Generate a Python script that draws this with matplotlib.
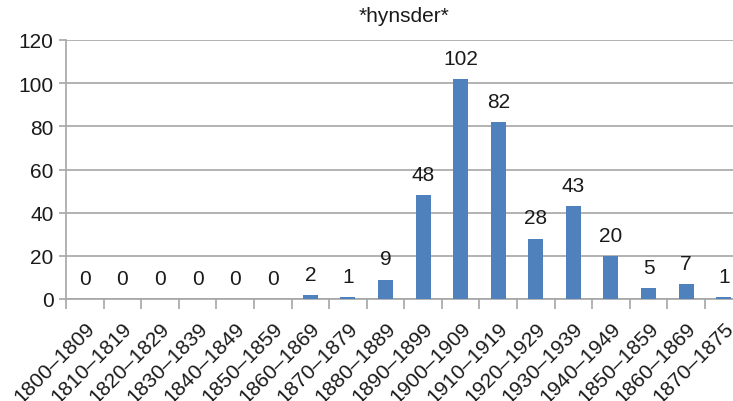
import matplotlib
matplotlib.use("Agg")
import matplotlib.pyplot as plt
import numpy as np

categories = ["1800–1809", "1810–1819", "1820–1829", "1830–1839", "1840–1849",
              "1850–1859", "1860–1869", "1870–1879", "1880–1889", "1890–1899",
              "1900–1909", "1910–1919", "1920–1929", "1930–1939", "1940–1949",
              "1850–1859", "1860–1869", "1870–1875"]
values = [0, 0, 0, 0, 0, 0, 2, 1, 9, 48, 102, 82, 28, 43, 20, 5, 7, 1]
title = "*hynsder*"
yticks = [0, 20, 40, 60, 80, 100, 120]

plt.rcParams['font.family'] = ['Liberation Sans', 'DejaVu Sans']
FS = 15
TXT = "#1a1a1a"

fig = plt.figure(figsize=(7.33, 4.02), dpi=100)
ax = fig.add_axes([66/733, 102/402, 676.5/733, 259/402])

x = np.arange(len(categories))
ax.bar(x, values, width=0.4, color="#4F81BD", zorder=3)
for xi, v in zip(x, values):
    ax.annotate(str(v), (xi, v), xytext=(0, 8), textcoords="offset points",
                ha="center", va="bottom", fontsize=FS, color=TXT)

ax.set_xlim(-0.5, len(categories) - 0.5)
ax.set_ylim(0, 120)
ax.set_yticks(yticks)
ax.set_yticklabels([str(t) for t in yticks], fontsize=FS, color=TXT)
ax.yaxis.grid(True, color="#A6A6A6", linewidth=1.2, zorder=0)
ax.tick_params(axis="y", length=5, color="#A6A6A6", width=1.2, pad=4)

ax.set_xticks(np.arange(len(categories) + 1) - 0.5, minor=False)
ax.set_xticklabels([])
ax.tick_params(axis="x", which="major", length=7, color="#A6A6A6", width=1.2)
ax.set_xticks(x, minor=True)
ax.set_xticklabels(categories, minor=True, rotation=45, ha="right",
                   rotation_mode="anchor", fontsize=FS, color=TXT)
ax.tick_params(axis="x", which="minor", length=0, pad=14)

for s in ["top", "right"]:
    ax.spines[s].set_visible(False)
ax.spines["left"].set_color("#A6A6A6")
ax.spines["left"].set_linewidth(1.2)
ax.spines["bottom"].set_color("#A6A6A6")
ax.spines["bottom"].set_linewidth(1.2)

ax.set_title(title, fontsize=FS, color=TXT, pad=14)

fig.savefig("out.png", dpi=100)
